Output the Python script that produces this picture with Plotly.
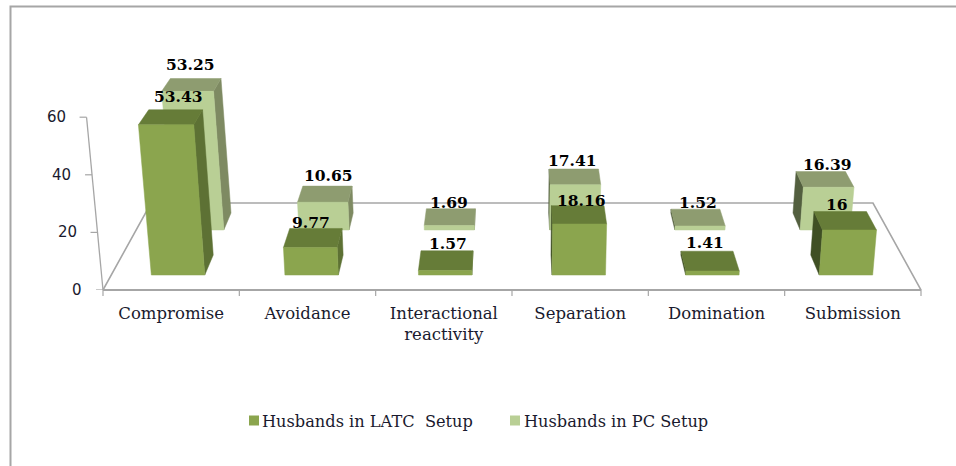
import plotly.graph_objects as go

categories = ["Compromise", "Avoidance", "Interactional<br>reactivity", "Separation", "Domination", "Submission"]
latc_values = [53.43, 9.77, 1.57, 18.16, 1.41, 16]
pc_values = [53.25, 10.65, 1.69, 17.41, 1.52, 16.39]
y_ticks = [0, 20, 40, 60]
latc_name = "Husbands in LATC  Setup"
pc_name = "Husbands in PC Setup"

# label nudges in pixels (right, down)
latc_nudge = [(3, 1), (-5, 8), (1, 7), (4, 9), (-2, 5), (-3, 7)]
pc_nudge = [(-5, 0), (1, 3), (-2, 8), (-1, 5), (3, 7), (7, 7)]

W, H = 956, 466
X0, X1, Y0 = 103.0, 921.0, 290.0
PX_CAT = (X1 - X0) / 6
PX_VAL = 2.88
FONT_SERIF = "DejaVu Serif"
TEXT = "#1a1a2e"
GREY = "#a6a6a6"
C_LATC = "#8ba54e"
C_PC = "#b9cf95"

def proj(cat, d, h):
    """Category position, depth (0 front .. 1 back), value -> axis coordinates."""
    s = (1 - 0.1174 * d) * (1 + 0.00067 * h)
    x = 2.5 + (cat - 2.5) * s
    y = 87.0 / PX_VAL * d + h * (1 - 0.139 * d)
    return x, y

def poly(pts):
    xs, ys = [], []
    for c, d, h in pts + pts[:1]:
        x, y = proj(c, d, h)
        xs.append(x); ys.append(y)
    return xs + [None], ys + [None]

HALF = 0.2
def add_series(fig, name, values, d0, d1, c_front, c_top, c_right, c_left):
    right, left, top, front = ([], []), ([], []), ([], []), ([], [])
    for i, v in enumerate(values):
        a, b = i - HALF, i + HALF
        if b < 2.5:
            p = poly([(b, d0, 0), (b, d1, 0), (b, d1, v), (b, d0, v)])
            right[0].extend(p[0]); right[1].extend(p[1])
        if a > 2.5:
            p = poly([(a, d0, 0), (a, d1, 0), (a, d1, v), (a, d0, v)])
            left[0].extend(p[0]); left[1].extend(p[1])
        p = poly([(a, d0, v), (b, d0, v), (b, d1, v), (a, d1, v)])
        top[0].extend(p[0]); top[1].extend(p[1])
        p = poly([(a, d0, 0), (b, d0, 0), (b, d0, v), (a, d0, v)])
        front[0].extend(p[0]); front[1].extend(p[1])
    for pts, col in ((left, c_left), (right, c_right), (top, c_top), (front, c_front)):
        fig.add_trace(go.Scatter(x=pts[0], y=pts[1], mode="lines", fill="toself", fillcolor=col, name=name,
                                 line=dict(color=col, width=0.5), showlegend=False, hoverinfo="skip"))

fig = go.Figure()

# floor
fx, fy = poly([(-0.5, 0, 0), (5.5, 0, 0), (5.5, 1, 0), (-0.5, 1, 0)])
fig.add_trace(go.Scatter(x=fx, y=fy, mode="lines", line=dict(color=GREY, width=1.6),
                         showlegend=False, hoverinfo="skip"))
# vertical axis and ticks
ax = [proj(-0.5, 0, 0), proj(-0.5, 0, 60)]
fig.add_trace(go.Scatter(x=[p[0] for p in ax], y=[p[1] for p in ax], mode="lines",
                         line=dict(color=GREY, width=1.3), showlegend=False, hoverinfo="skip"))
tx, ty = [], []
for t in y_ticks:
    x, y = proj(-0.5, 0, t)
    tx += [x - 7 / PX_CAT, x, None]; ty += [y, y, None]
fig.add_trace(go.Scatter(x=tx, y=ty, mode="lines", line=dict(color=GREY, width=1.2),
                         showlegend=False, hoverinfo="skip", cliponaxis=False))

add_series(fig, pc_name, pc_values, 0.69, 0.885, C_PC, "#8e9c70", "#7e8a62", "#535f3f")
add_series(fig, latc_name, latc_values, 0.172, 0.402, C_LATC, "#667c38", "#5d7134", "#3f4f24")

# data labels
for vals, d, nudge in ((pc_values, 0.885, pc_nudge), (latc_values, 0.402, latc_nudge)):
    for i, v in enumerate(vals):
        x, y = proj(i, d, v)
        fig.add_annotation(x=x, y=y, text=str(v), showarrow=False, xshift=nudge[i][0], yshift=14 - nudge[i][1],
                           xanchor="center", yanchor="middle",
                           font=dict(family=FONT_SERIF, size=15.5, color="#000000", weight="bold"))
# value axis labels
for t in y_ticks:
    x, y = proj(-0.5, 0, t)
    fig.add_annotation(x=x, y=y, text=str(t), showarrow=False, xanchor="right", yanchor="middle", xshift=-19,
                       font=dict(family="DejaVu Sans", size=15, color=TEXT))

def px(x): return x / W
def py(y): return (Y0 - y) / Y0
shapes = [
    dict(type="path", xref="paper", yref="paper",
         path=f"M {px(10.5)} {py(466)} L {px(10.5)} {py(6.5)} L {px(956)} {py(6.5)}",
         line=dict(color=GREY, width=2), layer="below"),
    # front floor edge
    dict(type="line", xref="x", yref="paper", x0=-0.5, x1=5.5, y0=0, y1=0, line=dict(color=GREY, width=2)),
]
# category tick marks
for i in range(7):
    shapes.append(dict(type="line", xref="x", yref="paper", x0=i - 0.5, x1=i - 0.5, y0=0, y1=py(296),
                       line=dict(color=GREY, width=1.2)))
# legend row
for name, col, x_sw, x_txt in ((latc_name, C_LATC, 249, 260), (pc_name, C_PC, 510, 522)):
    shapes.append(dict(type="rect", xref="paper", yref="paper", x0=px(x_sw), x1=px(x_sw + 10),
                       y0=py(425.5), y1=py(415.5), fillcolor=col, line=dict(width=0)))
    fig.add_annotation(xref="paper", yref="paper", x=px(x_txt), y=py(421), text=name, showarrow=False,
                       xanchor="left", yanchor="middle", font=dict(family=FONT_SERIF, size=16.2, color=TEXT))

fig.update_layout(
    width=W, height=H, margin=dict(l=0, r=0, t=0, b=H - int(Y0)),
    paper_bgcolor="white", plot_bgcolor="white", autosize=False, showlegend=False,
    xaxis=dict(range=[-0.5 - X0 / PX_CAT, 5.5 + (W - X1) / PX_CAT], tickmode="array",
               tickvals=list(range(6)), ticktext=categories, showgrid=False, zeroline=False, showline=False,
               ticks="outside", ticklen=8, tickcolor="rgba(0,0,0,0)",
               tickfont=dict(family=FONT_SERIF, size=16.5, color=TEXT)),
    yaxis=dict(range=[0, Y0 / PX_VAL], visible=False),
    shapes=shapes,
)
fig.write_html("out.html", config={"displayModeBar": False},
               post_script="document.body.style.margin='0';document.body.style.overflow='hidden';")
